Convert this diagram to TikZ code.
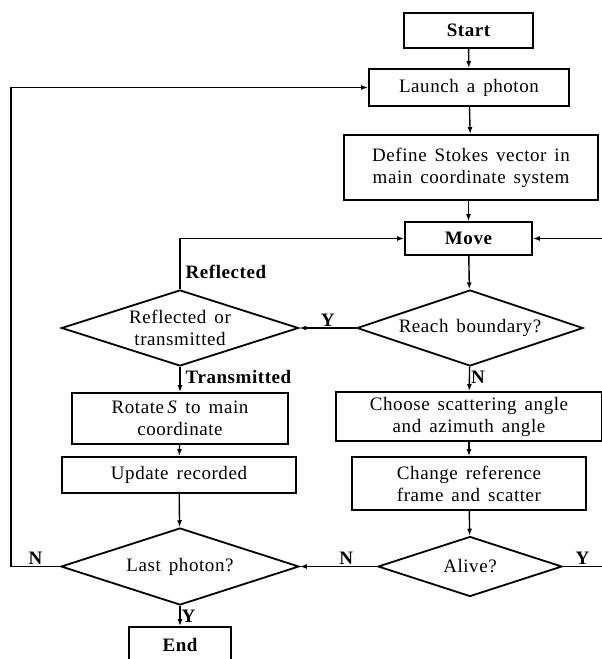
\documentclass[tikz,border=0pt]{standalone}
\usepackage{fontspec}
\setmainfont{Liberation Serif}[WordSpace=1.5,LetterSpace=3]
\usetikzlibrary{arrows.meta,shapes.geometric,positioning}

\newcommand{\flowfont}{\fontsize{19}{22}\selectfont}

\tikzset{
  procbox/.style={draw, line width=1.8pt, align=center, inner sep=1pt, font=\flowfont},
  decision/.style={draw, diamond, line width=1.8pt, align=center, inner sep=0pt, font=\flowfont},
  flowline/.style={line width=1.4pt, -{Latex[length=7pt,width=5pt]}},
  flowtag/.style={font=\flowfont\bfseries, inner sep=1pt}
}

\begin{document}
\begin{tikzpicture}[x=1pt,y=-1pt]
    \clip (0,0) rectangle (602,659);

    % Right column
    \node[procbox, minimum width=129, minimum height=35, font=\flowfont\bfseries] (start) at (468.5,30.5) {Start};
    \node[procbox, minimum width=200, minimum height=37] (launch) at (469,87.5) {Launch a photon};
    \node[procbox, minimum width=254, minimum height=65] (define) at (471,167.5) {Define Stokes vector in\\main coordinate system};
    \node[procbox, minimum width=127, minimum height=33, font=\flowfont\bfseries] (move) at (468.5,238.5) {Move};
    \node[decision, aspect=2.97, minimum width=226, minimum height=76] (reach) at (470,328) {Reach boundary?};
    \node[procbox, minimum width=266, minimum height=49] (choose) at (469,416.5) {Choose scattering angle\\and azimuth angle};
    \node[procbox, minimum width=234, minimum height=53] (change) at (469,483.5) {Change reference\\frame and scatter};
    \node[decision, aspect=3.07, minimum width=184, minimum height=60] (alive) at (470,566.5) {Alive?};

    % Left column
    \node[decision, aspect=3.12, minimum width=237, minimum height=76] (refl) at (180,328) {Reflected or\\transmitted};
    \node[procbox, minimum width=216, minimum height=51] (rotate) at (180,418.5) {Rotate\,\textit{S} to main\\coordinate};
    \node[procbox, minimum width=234, minimum height=36] (update) at (179,475) {Update recorded};
    \node[decision, aspect=3.09, minimum width=238, minimum height=77] (last) at (180,566.5) {Last photon?};
    \node[procbox, minimum width=102, minimum height=36, font=\flowfont\bfseries] (finish) at (180,645) {End};

    % Loop edges
    \coordinate (ledge) at (11,0);
    \coordinate (redge) at (608,0);

    % Connectors
    \draw[flowline] (start) -- (launch);
    \draw[flowline] (launch) -- (define);
    \draw[flowline] (define.south -| move) -- (move);
    \draw[flowline] (move) -- (reach);
    \draw[flowline] (reach) -- (choose) node[flowtag, pos=0.45, right] {N};
    \draw[flowline] (reach) -- (refl) node[flowtag, pos=0.5, above] {Y};
    \draw[flowline] (refl.north) |- (move.west) node[flowtag, pos=0.17, right=4pt] {Reflected};
    \draw[flowline] (refl) -- (rotate) node[flowtag, pos=0.42, right=4pt] {Transmitted};
    \draw[flowline] (rotate) -- (update);
    \draw[flowline] (choose) -- (change);
    \draw[flowline] (update) -- (last);
    \draw[flowline] (change) -- (alive);
    \draw[flowline] (alive) -- (last) node[flowtag, pos=0.4, above] {N};
    \draw[flowline] (last) -- (finish) node[flowtag, pos=0.5, right] {Y};
    \draw[flowline] (last.west) -- node[flowtag, above] {N} (last.west -| ledge) |- (launch.west);
    \draw[flowline] (alive.east) -- node[flowtag, above, xshift=-3pt] {Y} (alive.east -| redge) |- (move.east);
\end{tikzpicture}
\end{document}
